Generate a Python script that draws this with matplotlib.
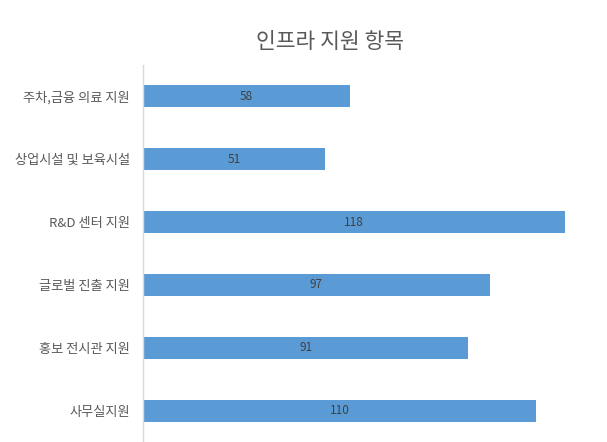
import matplotlib

matplotlib.use("Agg")
import matplotlib.pyplot as plt  # noqa: E402

plt.rcParams["font.family"] = ["Noto Sans CJK KR", "DejaVu Sans"]

categories = [
    "주차,금융 의료 지원",
    "상업시설 및 보육시설",
    "R&D 센터 지원",
    "글로벌 진출 지원",
    "홍보 전시관 지원",
    "사무실지원",
]
values = [58, 51, 118, 97, 91, 110]
title = "인프라 지원 항목"

W, H = 607, 442
figure = plt.figure(figsize=(W / 100, H / 100), dpi=100)
left, right, top, bottom = 143, 590, 65, 442
axis = figure.add_axes(
    [left / W, 1 - bottom / H, (right - left) / W, (bottom - top) / H]
)

positions = list(range(len(categories)))
axis.barh(positions, values, height=0.35, color="#5B9BD5")
axis.set_xlim(0, 125)
axis.set_ylim(len(categories) - 0.5, -0.5)
axis.set_yticks(positions, categories)
axis.tick_params(axis="y", length=0, pad=9.5, labelsize=9.5, labelcolor="#595959")
axis.set_xticks([])
for side in ("top", "right", "bottom"):
    axis.spines[side].set_visible(False)
axis.spines["left"].set_color("#D9D9D9")
axis.spines["left"].set_linewidth(1.0)

for position, value in zip(positions, values):
    axis.text(
        value / 2,
        position,
        f"{value}",
        ha="center",
        va="center",
        fontsize=8.5,
        color="#404040",
    )

figure.text(330 / W, 1 - 42 / H, title, ha="center", va="center",
            fontsize=15.5, color="#595959")

figure.savefig("out.png", dpi=100)
plt.close(figure)
